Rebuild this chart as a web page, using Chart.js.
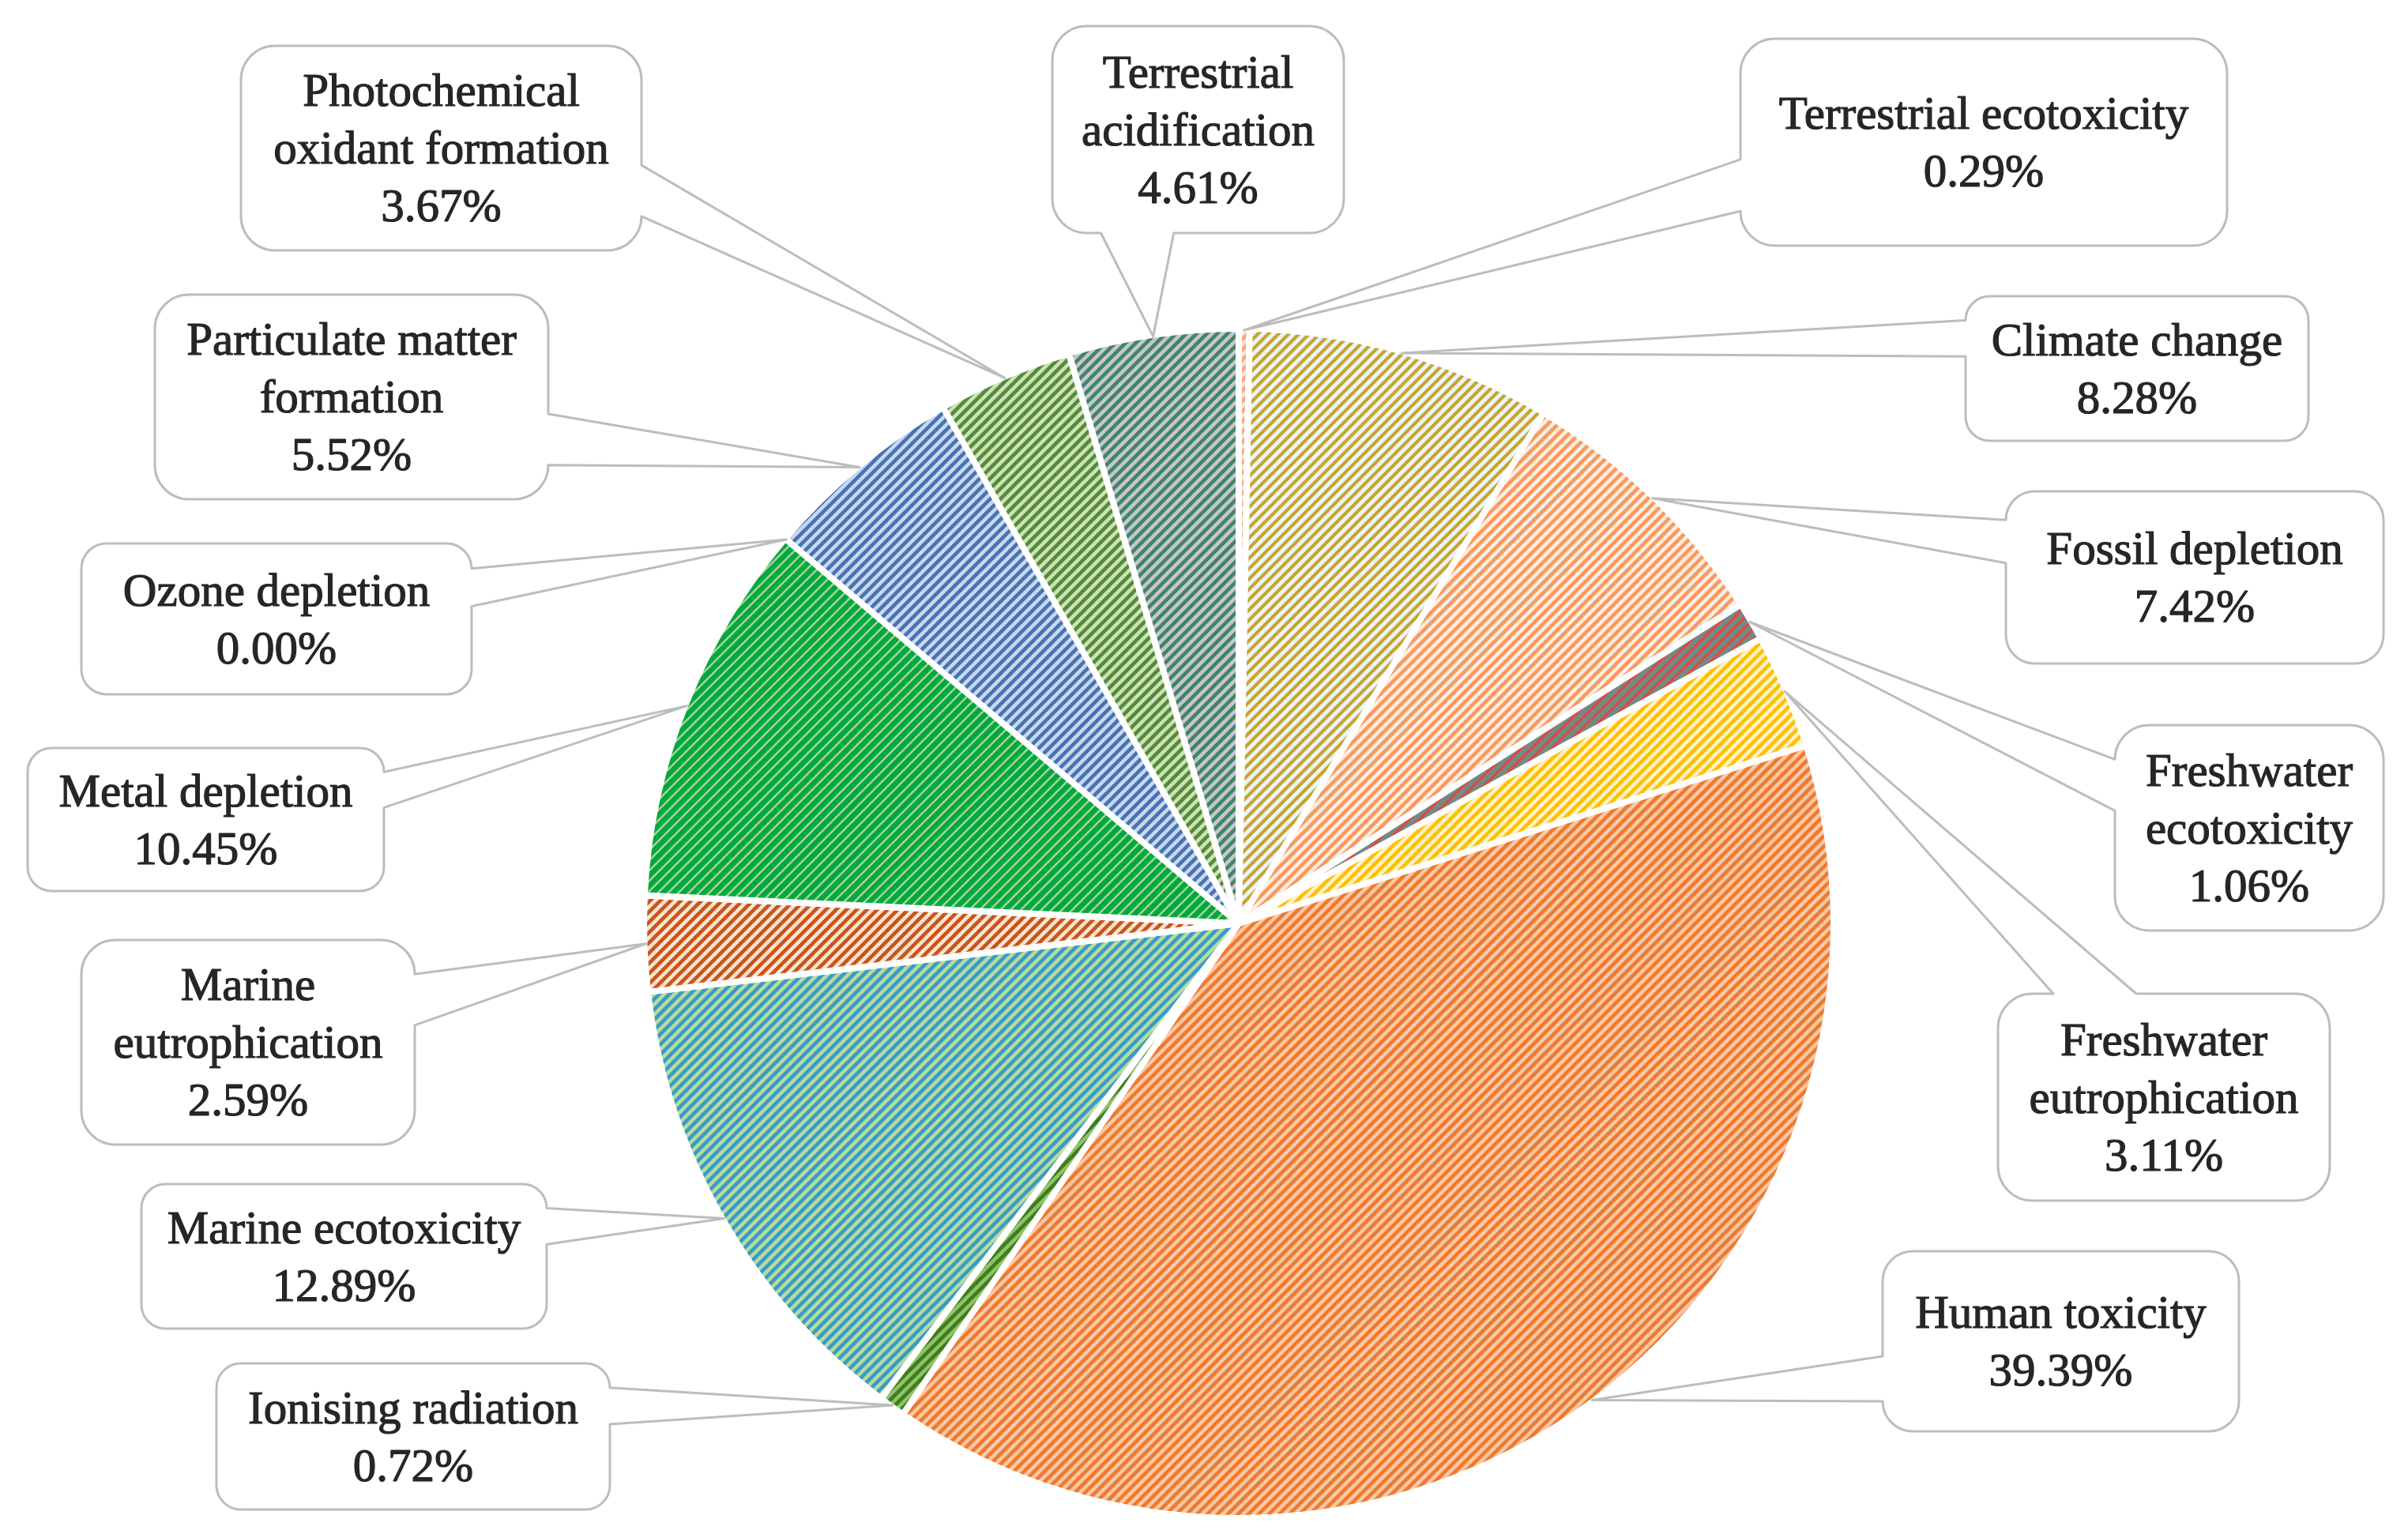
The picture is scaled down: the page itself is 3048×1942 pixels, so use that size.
<!DOCTYPE html>
<html lang="en">
  <head>
    <meta charset="UTF-8" />
    <title>Impact categories</title>
    <script src="https://cdn.jsdelivr.net/npm/chart.js@4.4.0/dist/chart.umd.min.js"></script>
    <style>
      body {
        margin: 0;
        background-color: white;
      }
      .chart-container {
        width: 3048px;
        height: 1942px;
      }
    </style>
  </head>
  <body>
    <div class="chart-container">
      <canvas id="myChart" width="3048" height="1942"></canvas>
    </div>

    <script>
      // impact categories, clockwise from 12 o'clock
      const categories = [
        ["Terrestrial ecotoxicity"],
        ["Climate change"],
        ["Fossil depletion"],
        ["Freshwater", "ecotoxicity"],
        ["Freshwater", "eutrophication"],
        ["Human toxicity"],
        ["Ionising radiation"],
        ["Marine ecotoxicity"],
        ["Marine", "eutrophication"],
        ["Metal depletion"],
        ["Ozone depletion"],
        ["Particulate matter", "formation"],
        ["Photochemical", "oxidant formation"],
        ["Terrestrial", "acidification"],
      ];
      const shares = [0.29, 8.28, 7.42, 1.06, 3.11, 39.39, 0.72, 12.89, 2.59, 10.45, 0.0, 5.52, 3.67, 4.61];

      // hatch colours: [stripe, background, stripe width]
      const hatchStyles = [
        ["#F4A77E", "#FBE3D4", 4.6],
        ["#C9A42C", "#EAF4FA", 4.2],
        ["#F89A5E", "#FDEDE2", 4.6],
        ["#E8443A", "#748A85", 3],
        ["#FFC000", "#FFF2C8", 4.6],
        ["#EE7A2E", "#F9C8A6", 4.6],
        ["#3E7D20", "#8FC466", 4.6],
        ["#3A9AC8", "#B6DC9C", 4.6],
        ["#C6561A", "#FCE3D3", 4.6],
        ["#A8D58E", "#00A843", 2.6],
        ["#7F7F7F", "#D9D9D9", 4.6],
        ["#4A72B2", "#C7D9F0", 4.6],
        ["#578A38", "#CAE3B9", 4.6],
        ["#3E8860", "#CAC3D6", 4.6],
      ];

      // callout boxes in canvas px: [left, top, width, height]
      const calloutBoxes = [
        [2203, 49, 616, 262],
        [2488, 375, 434, 183],
        [2539, 622, 478, 218],
        [2677, 918, 340, 260],
        [2529, 1258, 420, 262],
        [2383, 1584, 451, 228],
        [274, 1726, 498, 185],
        [179, 1499, 513, 183],
        [103, 1190, 422, 259],
        [35, 947, 451, 181],
        [103, 688, 494, 191],
        [196, 373, 498, 259],
        [305, 58, 507, 259],
        [1332, 33, 369, 262],
      ];

      const ctx = document.getElementById("myChart").getContext("2d");

      function hatch(fg, bg, lw) {
        const s = 13;
        const tile = document.createElement("canvas");
        tile.width = s;
        tile.height = s;
        const g = tile.getContext("2d");
        g.fillStyle = bg;
        g.fillRect(0, 0, s, s);
        g.strokeStyle = fg;
        g.lineWidth = lw;
        g.beginPath();
        g.moveTo(-s, s);
        g.lineTo(s, -s);
        g.moveTo(0, s);
        g.lineTo(s, 0);
        g.moveTo(0, 2 * s);
        g.lineTo(2 * s, 0);
        g.stroke();
        return ctx.createPattern(tile, "repeat");
      }

      // rounded rectangle with an Excel style wedge pointing at (tx, ty)
      function calloutPath(c, x, y, w, h, tx, ty) {
        const r = Math.min(w, h) / 6;
        const dx = tx - (x + w / 2);
        const dy = ty - (y + h / 2);
        let side;
        if (Math.abs(dy) - Math.abs((dx * h) / w) > 0) side = dy < 0 ? "top" : "bottom";
        else side = dx < 0 ? "left" : "right";
        const bx1 = x + (w * (dx > 0 ? 7 : 2)) / 12;
        const bx2 = x + (w * (dx > 0 ? 10 : 5)) / 12;
        const by1 = y + (h * (dy > 0 ? 7 : 2)) / 12;
        const by2 = y + (h * (dy > 0 ? 10 : 5)) / 12;

        c.beginPath();
        c.moveTo(x + r, y);
        if (side === "top") {
          c.lineTo(bx1, y);
          c.lineTo(tx, ty);
          c.lineTo(bx2, y);
        }
        c.lineTo(x + w - r, y);
        c.arcTo(x + w, y, x + w, y + r, r);
        if (side === "right") {
          c.lineTo(x + w, by1);
          c.lineTo(tx, ty);
          c.lineTo(x + w, by2);
        }
        c.lineTo(x + w, y + h - r);
        c.arcTo(x + w, y + h, x + w - r, y + h, r);
        if (side === "bottom") {
          c.lineTo(bx2, y + h);
          c.lineTo(tx, ty);
          c.lineTo(bx1, y + h);
        }
        c.lineTo(x + r, y + h);
        c.arcTo(x, y + h, x, y + h - r, r);
        if (side === "left") {
          c.lineTo(x, by2);
          c.lineTo(tx, ty);
          c.lineTo(x, by1);
        }
        c.lineTo(x, y + r);
        c.arcTo(x, y, x + r, y, r);
        c.closePath();
      }

      const callouts = {
        id: "callouts",
        afterDatasetsDraw(chart) {
          const c = chart.ctx;
          const arcs = chart.getDatasetMeta(0).data;
          c.save();
          arcs.forEach((arc, i) => {
            const [x, y, w, h] = calloutBoxes[i];
            const mid = (arc.startAngle + arc.endAngle) / 2;
            const rad = arc.outerRadius - 2;
            const tx = arc.x + Math.cos(mid) * rad;
            const ty = arc.y + Math.sin(mid) * rad;

            calloutPath(c, x, y, w, h, tx, ty);
            c.fillStyle = "white";
            c.fill();
            c.strokeStyle = "#BDBDBD";
            c.lineWidth = 3;
            c.lineJoin = "round";
            c.stroke();

            const lines = categories[i].concat([shares[i].toFixed(2) + "%"]);
            const lh = 73;
            c.fillStyle = "#262626";
            c.font = '59px "Liberation Serif", "DejaVu Serif", serif';
            c.textAlign = "center";
            c.textBaseline = "middle";
            c.strokeStyle = "#262626";
            c.lineWidth = 1.2;
            const top = y + h / 2 - ((lines.length - 1) * lh) / 2 + 4;
            lines.forEach((t, k) => {
              c.fillText(t, x + w / 2, top + k * lh);
              c.strokeText(t, x + w / 2, top + k * lh);
            });
          });
          c.restore();
        },
      };

      const myChart = new Chart(ctx, {
        type: "pie",
        data: {
          labels: categories,
          datasets: [
            {
              data: shares,
              backgroundColor: hatchStyles.map((s) => hatch(s[0], s[1], s[2])),
              borderColor: "white",
              borderWidth: 8,
              hoverOffset: 0,
            },
          ],
        },
        options: {
          responsive: false,
          devicePixelRatio: 1,
          animation: false,
          events: [],
          layout: {
            padding: { left: 811, top: 412, right: 723, bottom: 16 },
          },
          plugins: {
            legend: { display: false },
            tooltip: { enabled: false },
          },
        },
        plugins: [callouts],
      });
    </script>
  </body>
</html>
